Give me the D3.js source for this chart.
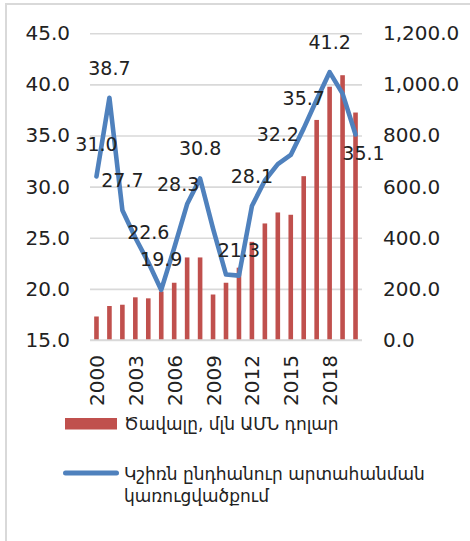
<!DOCTYPE html>
<html>
<head>
<meta charset="utf-8">
<script src="https://cdn.jsdelivr.net/npm/d3@7"></script>
<style>
  body { margin: 0; background: #fff; }
  svg text { font-family: "DejaVu Sans", sans-serif; fill: #222; }
</style>
</head>
<body>
<div id="chart"></div>
<script>
// years on the x axis
const years = ["2000","2001","2002","2003","2004","2005","2006","2007","2008","2009","2010",
               "2011","2012","2013","2014","2015","2016","2017","2018","2019","2020"];

// bars: volume, mln USD (right axis)
const volume = [92, 133, 138, 167, 163, 190, 224, 323, 323, 178, 224,
                283, 384, 456, 499, 490, 641, 861, 991, 1036, 890];

// line: share in total export structure, % (left axis)
const share = [31.0, 38.7, 27.7, 25.0, 22.6, 19.9, 24.0, 28.3, 30.8, 25.9, 21.4,
               21.3, 28.1, 30.6, 32.2, 33.1, 35.7, 38.5, 41.2, 39.1, 35.1];

// which points carry a value label
const labeledYears = ["2000","2001","2002","2004","2005","2007","2008","2011","2012","2014","2016","2018","2020"];

const leftTicks = [15, 20, 25, 30, 35, 40, 45];
const rightTicks = [0, 200, 400, 600, 800, 1000, 1200];
const xTickYears = ["2000","2003","2006","2009","2012","2015","2018"];

const barName = "Ծավալը, մլն ԱՄՆ դոլար";
const lineName = ["Կշիռն ընդհանուր արտահանման", "կառուցվածքում"];

// label nudges (px) where the labels were moved by hand
const labelNudge = { "2000": [0, -2], "2005": [0, -1], "2007": [-9, 10], "2011": [0, 4], "2020": [8, 48] };

const W = 470, H = 541;
const m = { left: 90, right: 362, top: 33.3, bottom: 340 };

const svg = d3.select("#chart").append("svg")
    .attr("width", W)
    .attr("height", H);

// chart frame (only left and top edges are visible)
svg.append("rect")
    .attr("x", 6).attr("y", 4)
    .attr("width", 480).attr("height", 560)
    .attr("fill", "none")
    .attr("stroke", "#d9d9d9")
    .attr("stroke-width", 2);

const x = d3.scalePoint().domain(years).range([m.left, m.right]).padding(0.5);
const yL = d3.scaleLinear().domain([15, 45]).range([m.bottom, m.top]);
const yR = d3.scaleLinear().domain([0, 1200]).range([m.bottom, m.top]);

// left axis + gridlines
const gL = svg.append("g")
    .attr("transform", `translate(${m.left},0)`)
    .call(d3.axisLeft(yL).tickValues(leftTicks).tickFormat(d3.format(".1f"))
        .tickSize(-(m.right - m.left)).tickPadding(20));
gL.select(".domain").remove();
gL.selectAll("line").attr("stroke", "#d9d9d9").attr("stroke-width", 1.6);
gL.selectAll("text").style("font-size", "20px").attr("fill", "#222");

// right axis
const gR = svg.append("g")
    .attr("transform", `translate(${m.right},0)`)
    .call(d3.axisRight(yR).tickValues(rightTicks).tickFormat(d3.format(",.1f"))
        .tickSize(0).tickPadding(21));
gR.select(".domain").remove();
gR.selectAll("text").style("font-size", "20px").attr("fill", "#222");

// bars
svg.append("g").selectAll("rect")
    .data(years)
    .join("rect")
    .attr("x", (d) => x(d) - 2.3)
    .attr("width", 4.6)
    .attr("y", (d, i) => yR(volume[i]))
    .attr("height", (d, i) => m.bottom - yR(volume[i]))
    .attr("fill", "#C0504D");

// bottom axis
const gX = svg.append("g")
    .attr("transform", `translate(0,${m.bottom})`)
    .call(d3.axisBottom(x).tickValues(xTickYears).tickSize(0));
gX.select(".domain").attr("stroke", "#d9d9d9").attr("stroke-width", 1.6)
    .attr("d", `M${m.left},0H${m.right}`);
gX.selectAll("text")
    .style("font-size", "20px")
    .attr("fill", "#222")
    .attr("text-anchor", "end")
    .attr("transform", "rotate(-90)")
    .attr("x", -15)
    .attr("y", 0)
    .attr("dy", "0.35em");

// line
const line = d3.line()
    .x((d, i) => x(years[i]))
    .y((d) => yL(d));

svg.append("path")
    .datum(share)
    .attr("d", line)
    .attr("fill", "none")
    .attr("stroke", "#4F81BD")
    .attr("stroke-width", 4.6)
    .attr("stroke-linejoin", "round")
    .attr("stroke-linecap", "round");

// value labels
svg.append("g").selectAll("text")
    .data(labeledYears)
    .join("text")
    .attr("x", (d) => x(d) + (labelNudge[d] ? labelNudge[d][0] : 0))
    .attr("y", (d) => yL(share[years.indexOf(d)]) - 23 + (labelNudge[d] ? labelNudge[d][1] : 0))
    .attr("text-anchor", "middle")
    .style("font-size", "19px")
    .text((d) => d3.format(".1f")(share[years.indexOf(d)]));

// legend
const lg = svg.append("g");
lg.append("rect")
    .attr("x", 65).attr("y", 418)
    .attr("width", 52).attr("height", 11.5)
    .attr("fill", "#C0504D");
lg.append("text")
    .attr("x", 124).attr("y", 430)
    .style("font-size", "17px")
    .text(barName);

lg.append("line")
    .attr("x1", 65.5).attr("x2", 116.5)
    .attr("y1", 473).attr("y2", 473)
    .attr("stroke", "#4F81BD")
    .attr("stroke-width", 5)
    .attr("stroke-linecap", "round");
lg.selectAll("text.ln")
    .data(lineName)
    .join("text")
    .attr("class", "ln")
    .attr("x", 124)
    .attr("y", (d, i) => 480 + i * 22)
    .style("font-size", "17px")
    .text((d) => d);
</script>
</body>
</html>
